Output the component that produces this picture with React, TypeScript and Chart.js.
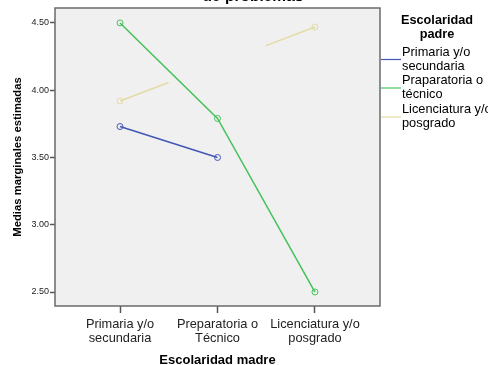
import React, { useEffect, useRef } from "react";
import { Chart, registerables } from "chart.js";

Chart.register(...registerables);

const categories = [["Primaria y/o", "secundaria"], ["Preparatoria o", "Técnico"], ["Licenciatura y/o", "posgrado"]];
const legendLabels = [["Primaria y/o", "secundaria"], ["Praparatoria o", "técnico"], ["Licenciatura y/o", "posgrado"]];
const primaria = [3.73, 3.5, null];
const preparatoria = [4.5, 3.79, 2.5];
const licenciatura = [3.92, null, 4.47];
const colors = ["#4257b5", "#46c25a", "#e2dba3"];
const yTicks = [2.5, 3.0, 3.5, 4.0, 4.5];

const FONT = "'Liberation Sans', Arial, sans-serif";

const toPoints = (arr: (number | null)[]) => arr.map((v, i) => ({ x: i, y: v }));

export default function App() {
  const ref = useRef<HTMLCanvasElement | null>(null);
  useEffect(() => {
    const canvas = ref.current!;
    const decorPlugin = {
      id: "decor",
      beforeDatasetsDraw(chart: any) {
        const { ctx, chartArea: a } = chart;
        ctx.save();
        ctx.fillStyle = "#f0f0f0";
        ctx.fillRect(a.left, a.top, a.right - a.left, a.bottom - a.top);
        ctx.restore();
      },
      afterDraw(chart: any) {
        const { ctx, chartArea: a } = chart;
        ctx.save();
        ctx.strokeStyle = "#6a6a6a";
        ctx.lineWidth = 1.5;
        ctx.strokeRect(a.left, a.top, a.right - a.left, a.bottom - a.top);
        ctx.fillStyle = "#000";
        ctx.textAlign = "center";
        ctx.textBaseline = "alphabetic";
        ctx.font = `bold 15.5px ${FONT}`;
        ctx.fillText("de problemas", 253, 1);
        ctx.font = `bold 13px ${FONT}`;
        ctx.fillText("Escolaridad madre", (a.left + a.right) / 2, 364);
        ctx.save();
        ctx.translate(21, (a.top + a.bottom) / 2);
        ctx.rotate(-Math.PI / 2);
        ctx.font = `bold 11.3px ${FONT}`;
        ctx.fillText("Medias marginales estimadas", 0, 0);
        ctx.restore();
        // legend
        ctx.font = `bold 12.7px ${FONT}`;
        ctx.fillText("Escolaridad", 437, 24);
        ctx.fillText("padre", 437, 38);
        ctx.font = `12.8px ${FONT}`;
        ctx.textAlign = "left";
        const lineY = [59.5, 88, 117];
        legendLabels.forEach((lbl, i) => {
          ctx.strokeStyle = colors[i];
          ctx.lineWidth = 1.2;
          ctx.beginPath();
          ctx.moveTo(381, lineY[i]);
          ctx.lineTo(401, lineY[i]);
          ctx.stroke();
          ctx.fillStyle = "#000";
          ctx.fillText(lbl[0], 402, lineY[i] - 4);
          ctx.fillText(lbl[1], 402, lineY[i] + 10);
        });
        ctx.restore();
      },
    };
    const mk = (label: string, data: (number | null)[], color: string, extra: any = {}) => ({
      label,
      data: toPoints(data),
      borderColor: color,
      backgroundColor: color,
      pointBackgroundColor: "rgba(0,0,0,0)",
      pointBorderColor: color,
      pointRadius: 3,
      pointBorderWidth: 1,
      borderWidth: 1.5,
      tension: 0,
      ...extra,
    });
    const chart = new Chart(canvas, {
      type: "line",
      data: {
        datasets: [
          mk("Primaria y/o secundaria", primaria, colors[0]),
          mk("Praparatoria o técnico", preparatoria, colors[1]),
          mk("Licenciatura y/o posgrado", licenciatura, colors[2], {
            spanGaps: true,
            segment: { borderDash: () => [52, 104, 60] },
          }),
        ],
      },
      options: {
        animation: false,
        responsive: false,
        maintainAspectRatio: false,
        layout: { padding: { top: 8, right: 108, left: 0, bottom: 0 } },
        plugins: { legend: { display: false }, tooltip: { enabled: false }, title: { display: false } },
        scales: {
          x: {
            type: "linear",
            min: -0.667,
            max: 2.667,
            afterBuildTicks: (s: any) => {
              s.ticks = categories.map((_, i) => ({ value: i }));
            },
            afterFit: (s: any) => {
              s.height = 59;
            },
            ticks: {
              callback: (v: any) => categories[v as number] ?? "",
              font: { family: FONT, size: 12.8, lineHeight: 1.1 },
              color: "#222",
              padding: 4,
              maxRotation: 0,
              autoSkip: false,
            },
            grid: { drawOnChartArea: false, tickLength: 7, color: "#555", tickWidth: 1.5 },
            border: { display: false },
          },
          y: {
            min: 2.396,
            max: 4.611,
            afterBuildTicks: (s: any) => {
              s.ticks = yTicks.map((v) => ({ value: v }));
            },
            afterFit: (s: any) => {
              s.width = 55;
            },
            ticks: {
              callback: (v: any) => Number(v).toFixed(2),
              font: { family: FONT, size: 9 },
              color: "#222",
              padding: 1,
            },
            grid: { drawOnChartArea: false, tickLength: 5, color: "#555", tickWidth: 1.5 },
            border: { display: false },
          },
        },
      },
      plugins: [decorPlugin],
    } as any);
    return () => chart.destroy();
  }, []);
  return (
    <div style={{ position: "fixed", left: 0, top: 0, width: 488, height: 365, background: "#fff" }}>
      <canvas ref={ref} width={488} height={365} style={{ width: 488, height: 365 }} />
    </div>
  );
}
